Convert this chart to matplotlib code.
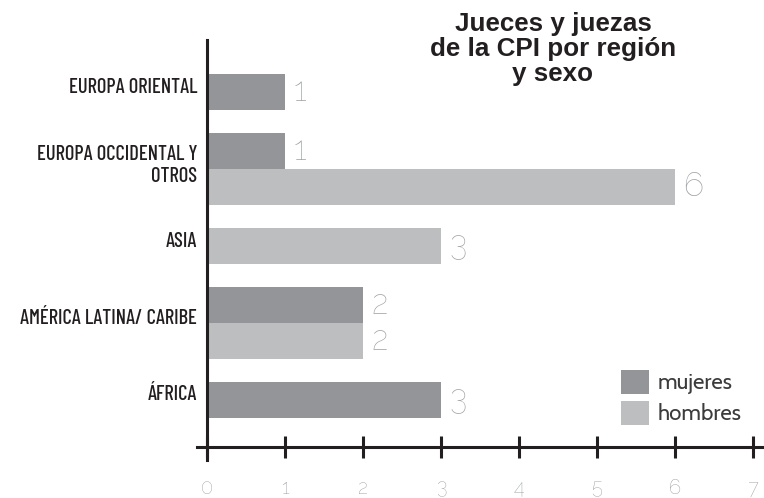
import matplotlib
matplotlib.use('Agg')
from matplotlib import pyplot as plt
from matplotlib.patches import Patch
from matplotlib.transforms import ScaledTranslation

# data
regions = ['EUROPA ORIENTAL', 'EUROPA OCCIDENTAL Y\nOTROS', 'ASIA',
           'AMÉRICA LATINA/ CARIBE', 'ÁFRICA']
mujeres = [1, 1, 0, 2, 3]
hombres = [0, 6, 3, 2, 0]
series_names = ['mujeres', 'hombres']
x_ticks = [0, 1, 2, 3, 4, 5, 6, 7]
title = 'Jueces y juezas\nde la CPI por región\ny sexo'

colors = {'mujeres': '#939598', 'hombres': '#bcbec0'}
ink = '#231f20'
narrow = ['Barlow Condensed', 'DejaVu Sans']
digits = ['Raleway', 'Lato', 'DejaVu Sans']
humanist = ['Cabin', 'Lato', 'DejaVu Sans']

W, H = 764, 498
fig = plt.figure(figsize=(W / 100, H / 100), dpi=100)
ax = fig.add_axes([197 / W, 1 - 460 / H, (W - 197) / W, 420 / H])

# bars are stacked one after another, zero values leave no slot
group_gap = 0.62
cursor = 0.0
centers = []
for i, region in enumerate(regions):
    start = cursor
    for name, vals in (('mujeres', mujeres), ('hombres', hombres)):
        v = vals[i]
        if v == 0:
            continue
        ax.barh(cursor + 0.5, v, height=1.0, color=colors[name], linewidth=0)
        ax.annotate(str(v), xy=(v, cursor + 0.5), xytext=(6, 0),
                    textcoords='offset points', ha='left', va='center',
                    fontsize=24, color='#9c9ea1', family=digits)
        cursor += 1
    centers.append((start + cursor) / 2)
    cursor += group_gap

unit_px = 36.3
ax.set_ylim(-34 / unit_px + 420 / unit_px, -34 / unit_px)
ax.set_xlim(-10 / 78, (W - 207) / 78)

for s in ('top', 'right'):
    ax.spines[s].set_visible(False)
ax.spines['left'].set_position(('data', 0))
ax.spines['bottom'].set_position(('axes', 13 / 420))
for s in ('left', 'bottom'):
    ax.spines[s].set_linewidth(2.2)
    ax.spines[s].set_color(ink)

ax.set_xticks(x_ticks)
ax.tick_params(axis='x', direction='inout', length=16, width=2.2, color=ink,
               pad=15, labelsize=14.5, labelcolor='#8e9093')

ax.set_yticks(centers, regions)
ax.tick_params(axis='y', length=0, pad=7, labelsize=14.8, labelcolor=ink)

fig.text(553 / W, 1 - 12 / H, title, ha='center', va='top', fontsize=18.7,
         fontweight='bold', family=['Liberation Sans', 'DejaVu Sans'],
         color=ink, linespacing=1.05)

handles = [Patch(facecolor=colors[n], edgecolor='none', label=n)
           for n in series_names]
fig.legend(handles=handles, loc='upper left',
           bbox_to_anchor=(621 / W, 1 - 370 / H), frameon=False,
           handlelength=1.27, handleheight=1.27,
           handletextpad=0.36, labelspacing=0.3, borderpad=0,
           borderaxespad=0, labelcolor='#3c3c3c',
           prop={'family': humanist, 'size': 16})

# fonts and offsets for tick labels, applied after all tick_params calls
for lab in ax.get_xticklabels():
    lab.set_family(digits)
for lab in ax.get_yticklabels():
    lab.set_family(narrow)
    lab.set_fontweight(500)
    lab.set_transform(lab.get_transform() +
                      ScaledTranslation(0, 0.07, fig.dpi_scale_trans))

fig.savefig('out.png', dpi=100)
